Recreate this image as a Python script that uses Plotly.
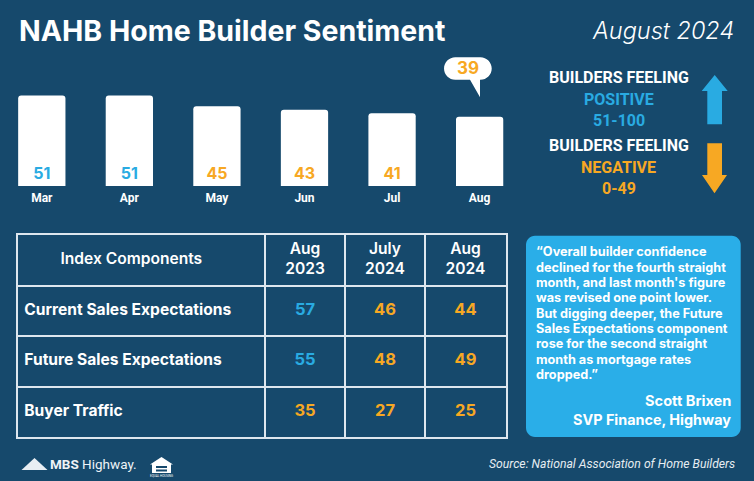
import plotly.graph_objects as go

W, H = 754, 481

# ---------------- data ----------------
months = ["Mar", "Apr", "May", "Jun", "Jul", "Aug"]
hmi = [51, 51, 45, 43, 41, 39]

components = ["Current Sales Expectations", "Future Sales Expectations", "Buyer Traffic"]
col_headers = ["Aug<br>2023", "July<br>2024", "Aug<br>2024"]
comp_aug2023 = [57, 55, 35]
comp_jul2024 = [46, 48, 27]
comp_aug2024 = [44, 49, 25]
POS_MIN = 51

title_text = "NAHB Home Builder Sentiment"
period_text = "August 2024"
quote_lines = [
    "“Overall builder confidence",
    "declined for the fourth straight",
    "month, and last month's figure",
    "was revised one point lower.",
    "But digging deeper, the Future",
    "Sales Expectations component",
    "rose for the second straight",
    "month as mortgage rates",
    "dropped.”",
]
quote_author = "Scott Brixen"
quote_role = "SVP Finance, Highway"
source_text = "Source: National Association of Home Builders"

# ---------------- style ----------------
BG = "#16496c"
BLUE = "#29abe2"
ORANGE = "#f7a823"
QUOTE_BG = "#2aaee8"
GRID = "#dde6ee"
FONT = "Inter"


def px(x):
    return x / W


def py(y):
    return 1 - y / H


def vcol(v):
    return BLUE if v >= POS_MIN else ORANGE


fig = go.Figure()

# ---------------- bar chart ----------------
bar_text = [str(v) for v in hmi[:-1]] + [""]
fig.add_trace(go.Bar(
    x=months, y=hmi, width=0.54,
    marker=dict(color="white", line_width=0),
    text=bar_text, textposition="inside", insidetextanchor="start", textangle=0,
    textfont=dict(color=[vcol(v) for v in hmi], size=16, family=FONT, weight=700),
    xaxis="x", yaxis="y", hoverinfo="skip", showlegend=False,
))


# speech bubble for latest value (pixel path anchored at latest bar top)
def bubble_path(x0, x1, yb, yt, tl, tipx, tipy, tr):
    r = (yt - yb) / 2
    k = 0.5523 * r
    ym = (yt + yb) / 2
    return (f"M{x0+r},{yt} L{x1-r},{yt} "
            f"C{x1-r+k},{yt} {x1},{ym+k} {x1},{ym} "
            f"C{x1},{ym-k} {x1-r+k},{yb} {x1-r},{yb} "
            f"L{tr},{yb} L{tipx},{tipy} L{tl},{yb} L{x0+r},{yb} "
            f"C{x0+r-k},{yb} {x0},{ym-k} {x0},{ym} "
            f"C{x0},{ym+k} {x0+r-k},{yt} {x0+r},{yt} Z")


last_i = len(months) - 1
fig.add_shape(type="path", xref="x", yref="y", xsizemode="pixel", ysizemode="pixel",
              xanchor=last_i, yanchor=hmi[-1],
              path=bubble_path(-35.6, 12.1, 37, 59.6, -9.6, 0.4, 19.6, 0.4),
              fillcolor="white", line_width=0, layer="above")
fig.add_annotation(x=last_i, y=hmi[-1], xref="x", yref="y", showarrow=False,
                   xshift=-11.7, yshift=48.3, text=str(hmi[-1]),
                   font=dict(color=vcol(hmi[-1]), size=17, family=FONT, weight=700))

# ---------------- table ----------------
COL_W = [246.7, 80, 80, 81]
edges = [0]
for w in COL_W:
    edges.append(edges[-1] + w)
centers = [(edges[i] + edges[i + 1]) / 2 for i in range(len(COL_W))]
HEADER_LABEL_X = 113

fig.add_trace(go.Scatter(
    x=[HEADER_LABEL_X] + centers[1:], y=[0.5] * 4,
    text=["Index Components"] + col_headers, mode="text",
    textfont=dict(color="white", size=15.6, family=FONT, weight=600),
    xaxis="x2", yaxis="y2", hoverinfo="skip", showlegend=False, cliponaxis=False))

rows_y = [1.5, 2.5, 3.5]
fig.add_trace(go.Scatter(
    x=[6] * len(components), y=rows_y, text=components, mode="text",
    textposition="middle right",
    textfont=dict(color="white", size=15.6, family=FONT, weight=700),
    xaxis="x2", yaxis="y2", hoverinfo="skip", showlegend=False, cliponaxis=False))

for j, vals in enumerate([comp_aug2023, comp_jul2024, comp_aug2024]):
    fig.add_trace(go.Scatter(
        x=[centers[j + 1]] * len(vals), y=rows_y, text=[str(v) for v in vals], mode="text",
        textfont=dict(color=[vcol(v) for v in vals], size=16.5, family=FONT, weight=700),
        xaxis="x2", yaxis="y2", hoverinfo="skip", showlegend=False, cliponaxis=False))


# ---------------- decorations ----------------
def ppath(pts):
    return "M" + " L".join(f"{px(x)},{py(y)}" for x, y in pts) + " Z"


# up / down arrows
fig.add_shape(type="path", xref="paper", yref="paper", line_width=0, fillcolor=BLUE,
              path=ppath([(714.7, 75), (727.7, 91), (722, 91), (722, 124.3),
                          (707.3, 124.3), (707.3, 91), (701.7, 91)]))
fig.add_shape(type="path", xref="paper", yref="paper", line_width=0, fillcolor=ORANGE,
              path=ppath([(707.3, 143.3), (722, 143.3), (722, 175), (727, 175),
                          (714.5, 193.3), (702, 175), (707.3, 175)]))


# quote box (rounded rect)
def rrect(x0, y0, x1, y1, r):
    k = 0.5523 * r
    return (f"M{px(x0+r)},{py(y0)} L{px(x1-r)},{py(y0)} "
            f"C{px(x1-r+k)},{py(y0)} {px(x1)},{py(y0+r-k)} {px(x1)},{py(y0+r)} "
            f"L{px(x1)},{py(y1-r)} "
            f"C{px(x1)},{py(y1-r+k)} {px(x1-r+k)},{py(y1)} {px(x1-r)},{py(y1)} "
            f"L{px(x0+r)},{py(y1)} "
            f"C{px(x0+r-k)},{py(y1)} {px(x0)},{py(y1-r+k)} {px(x0)},{py(y1-r)} "
            f"L{px(x0)},{py(y0+r)} "
            f"C{px(x0)},{py(y0+r-k)} {px(x0+r-k)},{py(y0)} {px(x0+r)},{py(y0)} Z")


fig.add_shape(type="path", xref="paper", yref="paper", line_width=0, fillcolor=QUOTE_BG,
              path=rrect(526, 235.7, 740.7, 437, 9), layer="below")

# logo: triangle + equal housing icon
fig.add_shape(type="path", xref="paper", yref="paper", line_width=0, fillcolor="#e8eef3",
              path=ppath([(21.5, 470), (34.5, 458), (47.5, 470)]))
fig.add_shape(type="path", xref="paper", yref="paper", line_width=0, fillcolor="white",
              path=ppath([(161.5, 457), (173, 464.5), (171, 464.5), (171, 473),
                          (152, 473), (152, 464.5), (150, 464.5)]))
fig.add_shape(type="rect", xref="paper", yref="paper", line_width=0, fillcolor=BG,
              x0=px(156), x1=px(167), y0=py(466), y1=py(468))
fig.add_shape(type="rect", xref="paper", yref="paper", line_width=0, fillcolor=BG,
              x0=px(156), x1=px(167), y0=py(469.5), y1=py(471.5))


# ---------------- text annotations ----------------
def ann(text, x, y, size, color="white", weight=400, xanchor="center", style="normal",
        family=FONT, yanchor="middle", align="center"):
    fig.add_annotation(text=text, x=px(x), y=py(y), xref="paper", yref="paper",
                       showarrow=False, xanchor=xanchor, yanchor=yanchor, align=align,
                       font=dict(size=size, color=color, weight=weight, style=style, family=family))


ann(title_text, 17, 30, 28.5, weight=700, xanchor="left")
ann(period_text, 736, 30, 23.5, weight=300, xanchor="right", style="italic")

LEG_X = 618.8
ann("BUILDERS FEELING", LEG_X, 77.7, 16, weight=700, family="Roboto")
ann("POSITIVE", LEG_X, 99.3, 16, color=BLUE, weight=700, family="Roboto")
ann("51-100", LEG_X, 120.7, 16, color=BLUE, weight=700, family="Roboto")
ann("BUILDERS FEELING", LEG_X, 145.7, 16, weight=700, family="Roboto")
ann("NEGATIVE", LEG_X, 167.3, 16, color=ORANGE, weight=700, family="Roboto")
ann("0-49", LEG_X, 189, 16, color=ORANGE, weight=700, family="Roboto")

for i, line in enumerate(quote_lines):
    ann(line, 534, 251.7 + i * 15.33, 12.7, weight=700, xanchor="left")
ann(quote_author, 733, 400.7, 14.6, weight=700, xanchor="right")
ann(quote_role, 733, 419, 14.4, weight=700, xanchor="right")

ann(source_text, 736.5, 464, 12.2, color="#e6edf2", xanchor="right", style="italic",
    family="Roboto")
ann("<b>MBS</b> Highway.", 48, 464, 13.5, color="#eef3f7", xanchor="left", family="Roboto")
ann("EQUAL HOUSING", 161.5, 476, 3, color="white", family="Roboto")

# ---------------- layout ----------------
fig.update_layout(
    width=W, height=H, margin=dict(l=0, r=0, t=0, b=0),
    paper_bgcolor=BG, plot_bgcolor="rgba(0,0,0,0)",
    barcornerradius=3, showlegend=False,
    xaxis=dict(domain=[px(2.4), px(523.4)], range=[-0.45, 5.5], showgrid=False,
               zeroline=False, showline=False, ticks="outside", ticklen=1,
               tickcolor="rgba(0,0,0,0)",
               tickfont=dict(color="white", size=12, family="Roboto", weight=700),
               fixedrange=True),
    yaxis=dict(domain=[py(186), py(186 - 75 * 1.775)], range=[0, 75], visible=False,
               fixedrange=True),
    xaxis2=dict(domain=[px(18.3), px(506)], range=[edges[0], edges[-1]],
                tickmode="array", tickvals=edges[1:-1], showticklabels=False, ticks="",
                showgrid=True, gridcolor=GRID, gridwidth=2, zeroline=False,
                showline=True, mirror=True, linecolor=GRID, linewidth=2,
                anchor="y2", fixedrange=True),
    yaxis2=dict(domain=[py(437), py(235)], range=[4, 0],
                tickmode="array", tickvals=[1, 2, 3], showticklabels=False, ticks="",
                showgrid=True, gridcolor=GRID, gridwidth=2, zeroline=False,
                showline=True, mirror=True, linecolor=GRID, linewidth=2,
                anchor="x2", fixedrange=True),
)

fig.write_html("out.html", config={"displayModeBar": False},
               post_script="document.body.style.margin='0';")
